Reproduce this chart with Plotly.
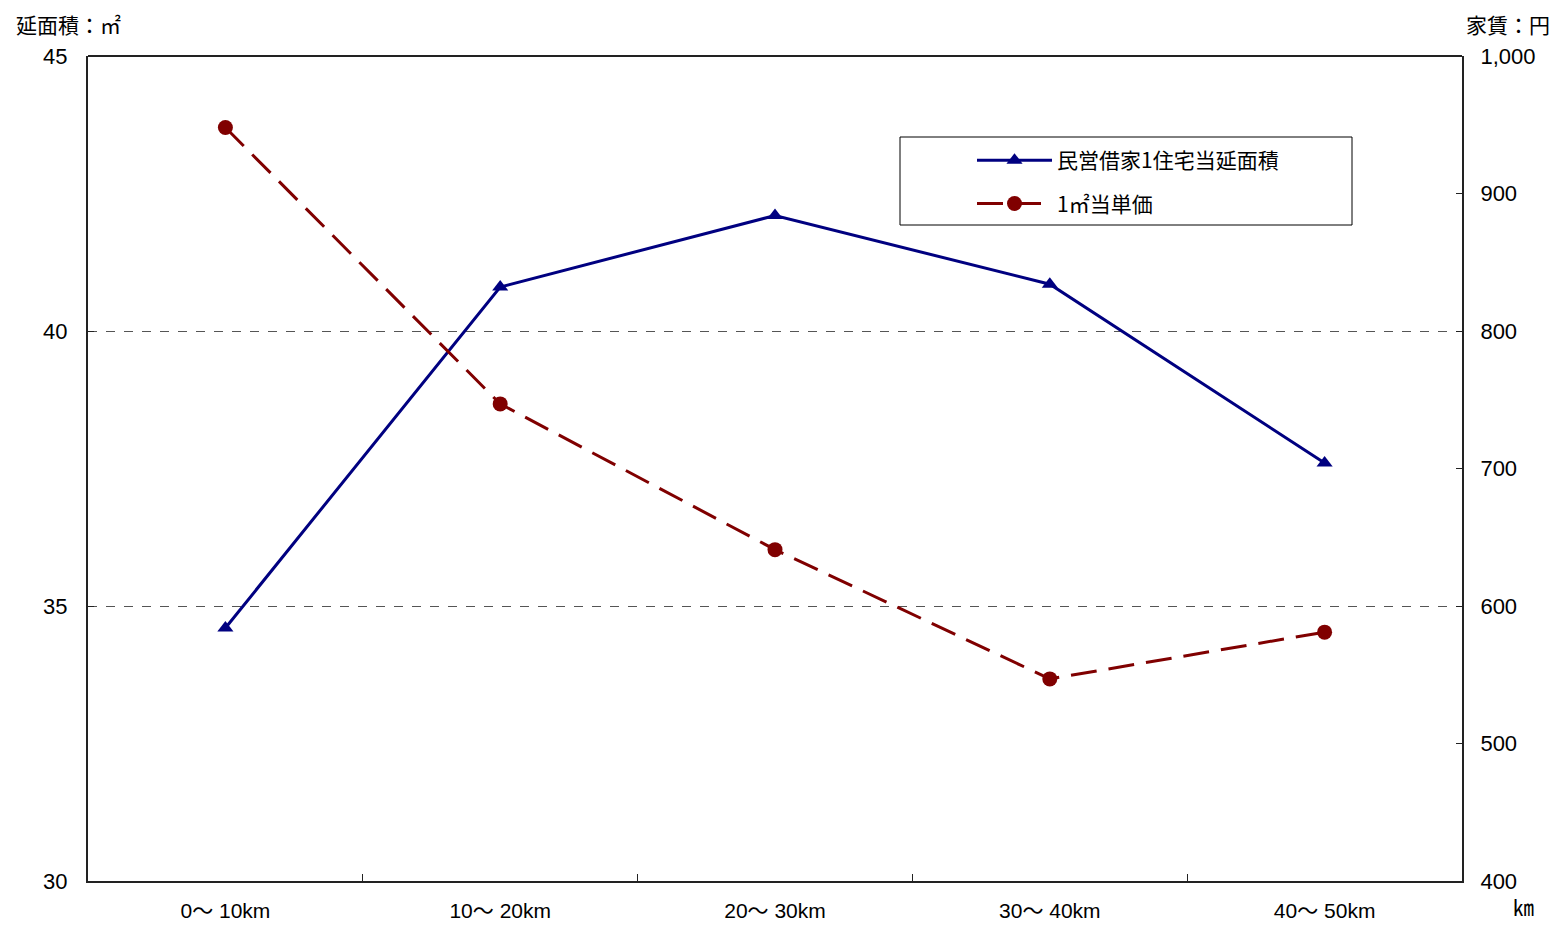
import plotly.graph_objects as go

# Distance bands from the city centre
categories = ["0〜 10km", "10〜 20km", "20〜 30km", "30〜 40km", "40〜 50km"]
# Floor area per private rental dwelling (m²)
floor_area = [34.6, 40.8, 42.1, 40.85, 37.6]
# Rent per m² (yen)
rent_per_m2 = [948, 747, 641, 547, 581]

left_ticks = [30, 35, 40, 45]
right_ticks = [400, 500, 600, 700, 800, 900, 1000]
right_tick_text = ["400", "500", "600", "700", "800", "900", "1,000"]

FONT = "Liberation Sans, Noto Sans CJK JP"
CJK = "Noto Sans CJK JP"
NAVY = "#000080"
MAROON = "#800000"
AXIS = "#222222"

fig = go.Figure()

fig.add_trace(go.Scatter(
    x=categories, y=floor_area, name="民営借家1住宅当延面積",
    legendgroup="area",
    mode="lines+markers",
    line=dict(color=NAVY, width=3),
    marker=dict(symbol="triangle-up", size=14, color=NAVY),
    yaxis="y",
))
fig.add_trace(go.Scatter(
    x=categories, y=rent_per_m2, name="1㎡当単価",
    legendgroup="rent",
    mode="lines+markers",
    line=dict(color=MAROON, width=3, dash="26px,12px"),
    marker=dict(symbol="circle", size=15, color=MAROON),
    yaxis="y2",
))

fig.update_layout(
    width=1556, height=925,
    margin=dict(l=88, r=94, t=56, b=44, autoexpand=False),
    paper_bgcolor="white", plot_bgcolor="white",
    font=dict(family=FONT, size=22, color="black"),
    showlegend=True,
    legend=dict(
        x=(972 - 88) / 1374, y=(881 - 140) / 825, xanchor="left", yanchor="top",
        bgcolor="rgba(0,0,0,0)", borderwidth=0,
        itemwidth=75, tracegroupgap=13, traceorder="grouped",
        font=dict(family=CJK, size=21),
    ),
    xaxis=dict(
        type="category", range=[-0.5, 4.5], automargin=False,
        tickson="boundaries", ticks="inside", ticklen=7, tickcolor=AXIS,
        showline=True, linecolor=AXIS, linewidth=2,
        mirror=False, showgrid=False, zeroline=False,
        tickfont=dict(size=21), ticklabelstandoff=10,
    ),
    yaxis=dict(
        range=[30, 45], tickvals=left_ticks, automargin=False,
        showline=True, linecolor=AXIS, linewidth=2,
        ticks="inside", ticklen=6, tickcolor=AXIS,
        showgrid=True, gridcolor="#555555", gridwidth=1, griddash="dash",
        zeroline=False, tickfont=dict(size=22), ticklabelstandoff=14,
    ),
    yaxis2=dict(
        range=[400, 1000], overlaying="y", side="right", automargin=False,
        tickvals=right_ticks, ticktext=right_tick_text,
        showline=True, linecolor=AXIS, linewidth=2,
        ticks="inside", ticklen=6, tickcolor=AXIS,
        showgrid=False, zeroline=False, tickfont=dict(size=22),
        ticklabelstandoff=12,
    ),
    shapes=[
        # top border of the plot frame
        dict(type="line", xref="paper", yref="paper", x0=0, x1=1, y0=1, y1=1,
             line=dict(color=AXIS, width=2)),
        # legend frame
        dict(type="rect", xref="paper", yref="paper",
             x0=(900 - 88) / 1374, x1=(1352 - 88) / 1374,
             y0=(881 - 225) / 825, y1=(881 - 137) / 825,
             line=dict(color="black", width=1), fillcolor="rgba(0,0,0,0)"),
    ],
    annotations=[
        dict(text="延面積：㎡", xref="paper", yref="paper",
             x=-88 / 1374 + 14 / 1374, y=1 + 32 / 825, xanchor="left", yanchor="middle",
             showarrow=False, font=dict(family=CJK, size=21)),
        dict(text="家賃：円", xref="paper", yref="paper",
             x=1 + 90 / 1374, y=1 + 32 / 825, xanchor="right", yanchor="middle",
             showarrow=False, font=dict(family=CJK, size=21)),
        dict(text="㎞", xref="paper", yref="paper",
             x=1 + 61 / 1374, y=-25 / 825, xanchor="center", yanchor="middle",
             showarrow=False, font=dict(family=CJK, size=21)),
    ],
)

fig.write_html("out.html")
